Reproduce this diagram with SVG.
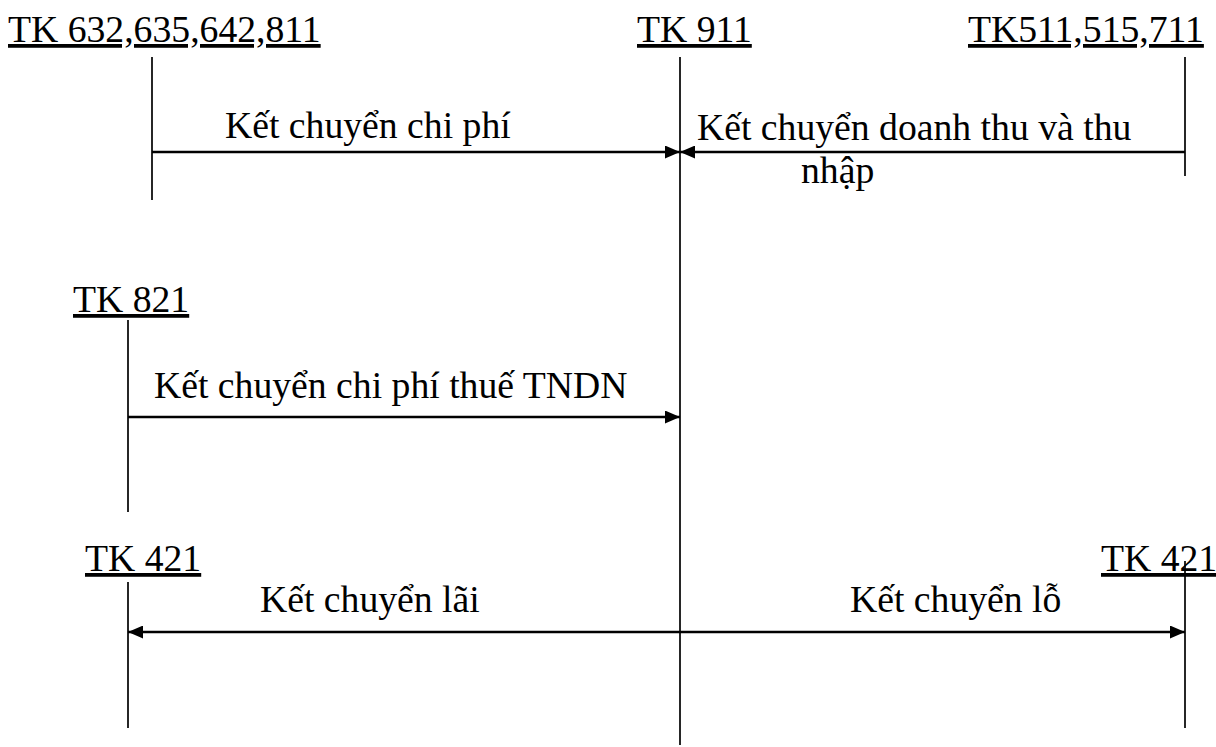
<svg xmlns="http://www.w3.org/2000/svg" width="1216" height="747" viewBox="0 0 1216 747">
  <defs>
    <marker id="arrow" viewBox="0 0 15 13" refX="15" refY="6.5" markerWidth="15" markerHeight="13" markerUnits="userSpaceOnUse" orient="auto-start-reverse">
      <path d="M0,0 L15,6.5 L0,13 Z" fill="#000"/>
    </marker>
  </defs>

  <rect width="1216" height="747" fill="#fff"/>

  <!-- account T-lines: underlined title with a vertical stem -->
  <g font-family="Liberation Serif" font-size="37.7" text-decoration="underline" stroke-width="1.7">
    <g id="tk632">
      <text x="8" y="42">TK 632,635,642,811</text>
      <line x1="152" y1="57" x2="152" y2="200" stroke="#000"/>
    </g>
    <g id="tk911">
      <text x="637" y="42">TK 911</text>
      <line x1="680" y1="57" x2="680" y2="745" stroke="#000"/>
    </g>
    <g id="tk511">
      <text x="968" y="42">TK511,515,711</text>
      <line x1="1185" y1="57" x2="1185" y2="176" stroke="#000"/>
    </g>
    <g id="tk821">
      <text x="73" y="312">TK 821</text>
      <line x1="128" y1="320" x2="128" y2="512" stroke="#000"/>
    </g>
    <g id="tk421-left">
      <text x="85" y="571">TK 421</text>
      <line x1="128" y1="582" x2="128" y2="728" stroke="#000"/>
    </g>
    <g id="tk421-right">
      <text x="1101" y="571">TK 421</text>
      <line x1="1185" y1="561" x2="1185" y2="728" stroke="#000"/>
    </g>
  </g>

  <!-- transfers between accounts -->
  <g id="connectors" stroke="#000" stroke-width="2.4" fill="none">
    <line x1="152" y1="152" x2="680" y2="152" marker-end="url(#arrow)"/>
    <line x1="1185" y1="152" x2="680" y2="152" marker-end="url(#arrow)"/>
    <line x1="128" y1="417" x2="680" y2="417" marker-end="url(#arrow)"/>
    <line x1="680" y1="632" x2="128" y2="632" marker-end="url(#arrow)"/>
    <line x1="680" y1="632" x2="1185" y2="632" marker-end="url(#arrow)"/>
  </g>
  <g id="labels" font-family="Liberation Serif" font-size="37.7" fill="#000">
    <text x="225" y="138">Kết chuyển chi phí</text>
    <text x="697" y="140">Kết chuyển doanh thu và thu</text>
    <text x="801" y="183">nhập</text>
    <text x="154" y="398">Kết chuyển chi phí thuế TNDN</text>
    <text x="260" y="612">Kết chuyển lãi</text>
    <text x="850" y="612">Kết chuyển lỗ</text>
  </g>
</svg>
